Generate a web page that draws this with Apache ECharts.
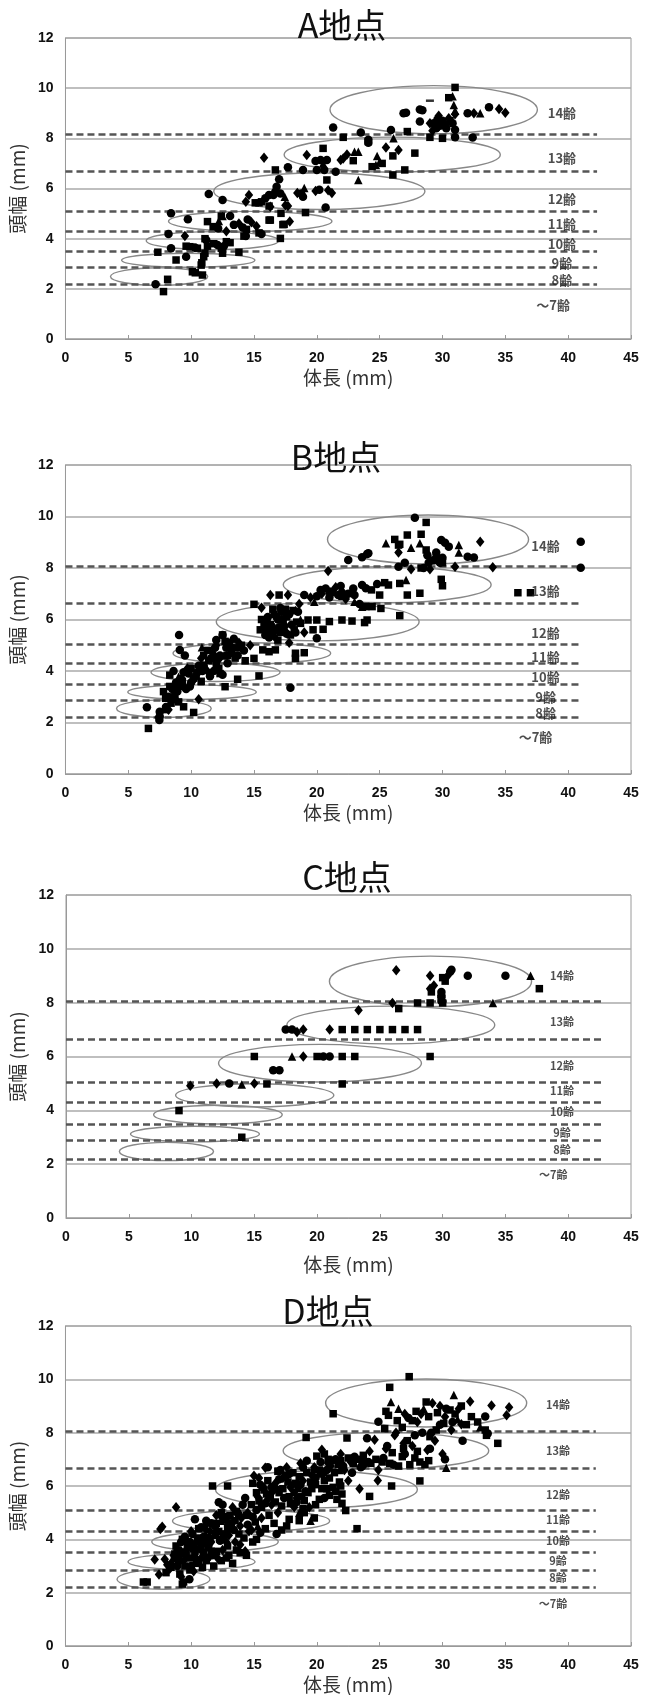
<!DOCTYPE html>
<html><head><meta charset="utf-8">
<script src="https://cdn.jsdelivr.net/npm/echarts@6/dist/echarts.min.js"></script>
<style>html,body{margin:0;padding:0;background:#fff}#c{width:660px;height:1695px}</style>
</head><body><div id="c"></div>
<script>
// ---- shared ----
const xTicks = [0,5,10,15,20,25,30,35,40,45];
const yTicks = [0,2,4,6,8,10,12];
const ageNames = ['14齢','13齢','12齢','11齢','10齢','9齢','8齢','～7齢'];

// ---- A地点 ----
const A_circle = [[26.9,9.0],[27.1,9.02],[28.2,9.15],[28.4,9.12],[28.2,8.67],[29.3,8.6],[29.8,8.5],[30.2,8.55],[29.6,8.75],[33.7,9.24],[32.0,9.0],[31.0,8.34],[31.0,8.04],[32.4,8.03],[25.9,8.33],[21.3,8.43],[23.5,8.23],[24.1,7.94],[24.1,7.82],[19.9,7.1],[20.3,7.14],[20.8,7.14],[17.7,6.85],[18.9,6.74],[20.0,6.74],[20.6,6.74],[21.5,6.67],[17.0,6.37],[16.8,6.07],[16.7,5.87],[16.55,5.74],[17.1,5.8],[16.2,5.74],[15.9,5.61],[11.4,5.78],[12.5,5.54],[18.9,5.67],[18.75,5.8],[20.2,5.95],[20.7,5.24],[8.4,5.01],[9.74,4.77],[13.1,4.9],[12.15,4.41],[13.4,4.55],[14.5,4.76],[14.1,4.45],[14.35,4.11],[15.6,4.19],[8.2,4.19],[11.2,3.95],[12.1,3.75],[12.6,3.7],[8.4,3.62],[9.6,3.28],[10.3,3.65],[7.17,2.18],[29.5,8.4],[30.0,8.7],[30.3,8.4],[30.8,8.6]];
const A_square = [[31.0,10.03],[30.5,9.62],[29.5,8.45],[30.6,8.7],[27.2,8.27],[22.1,8.04],[24.1,7.87],[29.0,8.04],[30.0,8.0],[20.5,7.6],[26.05,7.3],[22.9,7.11],[24.4,6.87],[25.2,7.0],[16.7,6.74],[27.8,7.41],[20.8,6.34],[26.05,6.54],[27.0,6.74],[15.1,5.43],[15.4,5.43],[15.6,5.47],[16.2,5.3],[19.1,5.04],[17.15,5.01],[16.2,4.74],[17.3,4.56],[11.3,4.68],[12.4,4.9],[16.3,4.74],[17.4,4.57],[14.4,4.37],[15.4,4.23],[17.1,4.01],[14.2,4.1],[11.1,4.0],[11.75,4.48],[9.6,3.7],[9.9,3.68],[10.5,3.62],[11.3,3.7],[11.8,3.8],[12.4,3.62],[13.1,3.84],[12.8,3.88],[11.1,3.42],[11.0,3.28],[12.5,3.42],[13.8,3.46],[7.35,3.46],[8.8,3.15],[10.85,3.04],[10.8,2.95],[10.1,2.68],[10.33,2.64],[10.9,2.55],[8.13,2.38],[7.8,1.89]];
const A_diamond = [[29.7,8.9],[30.5,8.8],[31.0,8.96],[32.5,9.0],[34.5,9.17],[35.0,9.02],[29.2,8.3],[29.0,8.6],[25.5,7.63],[26.5,7.53],[15.8,7.23],[19.2,7.34],[21.9,7.14],[22.4,7.36],[22.1,7.2],[14.6,5.74],[14.35,5.47],[17.7,5.3],[16.3,5.27],[19.9,5.9],[20.9,5.93],[21.2,5.82],[18.45,5.82],[17.5,5.33],[17.85,4.68],[15.2,4.5],[9.5,4.11],[12.8,4.3],[13.8,4.6],[14.8,4.65]];
const A_triangle = [[30.8,9.68],[30.9,9.33],[31.0,9.1],[33.0,9.0],[26.1,8.0],[23.0,7.47],[23.3,7.47],[24.8,7.3],[24.7,6.94],[25.0,7.07],[20.5,7.0],[23.3,6.34],[17.45,5.67],[19.0,6.02],[12.5,4.9],[12.2,4.7]];
const A_dash = [[29.0,9.5]];
const A_ellipses = [[29.3,9.14,8.25,0.96],[26.0,7.35,8.6,0.70],[20.2,5.89,8.4,0.73],[14.7,4.69,6.5,0.40],[11.7,3.92,5.27,0.36],[9.77,3.14,5.3,0.28],[7.45,2.49,3.87,0.35]];
const A_bounds = [8.15,6.7,5.1,4.3,3.5,2.85,2.2];
const A_boundEnd = 42.3;
const A_labelX = [39.5,39.5,39.5,39.5,39.5,39.5,39.5,38.8];
const A_labelY = [9.0,7.2,5.57,4.57,3.79,3.04,2.35,1.36];

// ---- B地点 ----
const B_circle = [[27.8,9.95],[29.9,9.09],[30.2,8.98],[30.5,8.83],[32.0,8.44],[32.5,8.41],[28.8,8.5],[29.3,8.3],[29.8,8.2],[28.5,8.0],[27.0,8.2],[26.5,8.05],[24.0,8.54],[23.6,8.42],[24.1,8.57],[22.5,8.31],[41.0,9.02],[41.0,8.01],[30.0,8.4],[20.7,7.2],[21.2,7.05],[21.9,7.3],[22.5,7.0],[23.0,6.95],[23.6,7.34],[23.9,7.21],[24.8,7.38],[19.0,6.95],[20.0,6.9],[23.4,6.6],[17.2,6.3],[16.8,6.1],[17.3,6.0],[16.0,5.95],[15.8,5.6],[16.5,5.5],[17.0,5.7],[17.6,5.45],[18.0,5.8],[18.5,6.3],[16.2,5.3],[20.0,5.27],[17.9,3.35],[9.04,5.4],[9.1,4.82],[9.5,4.6],[12.0,5.2],[12.5,5.4],[13.4,5.25],[12.8,4.9],[13.2,4.7],[11.6,4.5],[14.2,4.8],[11.0,4.2],[11.8,4.0],[12.5,3.85],[9.8,3.9],[10.5,3.95],[8.6,4.0],[9.2,3.7],[10.0,3.55],[9.6,3.3],[8.2,3.0],[8.9,3.2],[6.48,2.59],[7.5,2.42],[7.5,2.23],[7.47,2.1],[8.0,2.6],[16.4,5.75],[17.4,5.55],[16.9,6.0],[17.8,6.2],[15.9,5.4],[12.3,4.6],[11.9,4.9],[13.0,5.1],[10.2,3.7],[10.9,4.0],[9.4,3.95],[8.5,3.3],[8.7,2.9],[21.7,6.95],[22.9,7.2],[29.5,8.6],[28.9,8.2],[16.1,6.1],[17.1,6.45],[16.7,5.6],[18.3,5.5],[13.7,4.6],[12.9,4.3],[11.5,3.8],[10.6,4.2],[9.9,3.4],[8.8,3.55],[21.0,6.85],[20.3,7.15]];
const B_square = [[28.7,9.77],[27.2,9.28],[28.3,9.31],[26.2,9.11],[26.6,8.92],[26.5,8.89],[28.7,8.7],[29.2,8.3],[28.3,8.0],[36.0,7.04],[37.0,7.04],[29.9,7.56],[30.0,7.31],[28.2,7.02],[27.2,6.95],[25.4,7.43],[25.7,7.34],[26.6,7.4],[25.0,6.95],[24.35,7.15],[17.0,6.95],[15.0,6.59],[23.9,6.5],[24.4,6.5],[26.6,6.15],[25.1,6.43],[19.3,5.98],[20.0,5.98],[21.0,5.92],[22.0,5.98],[22.8,5.94],[23.8,5.88],[24.0,5.98],[20.5,5.62],[18.7,5.85],[19.7,5.6],[16.3,5.8],[17.1,5.5],[18.2,5.6],[15.6,6.0],[16.6,6.2],[17.5,6.4],[12.5,5.4],[12.9,4.6],[15.0,4.49],[15.7,4.82],[16.2,4.75],[16.7,4.82],[18.3,4.69],[19.0,4.71],[18.3,4.49],[14.3,4.4],[15.4,3.81],[13.7,3.68],[12.7,3.39],[8.3,3.84],[11.5,3.9],[12.2,4.1],[10.8,3.6],[7.8,3.2],[7.97,2.94],[8.4,2.75],[9.0,2.8],[9.4,2.61],[10.2,2.39],[6.6,1.77],[12.0,4.3],[13.5,4.5],[11.3,4.8],[16.0,5.9],[17.6,6.1],[18.4,5.9],[15.5,5.6],[13.2,4.8],[14.0,5.0],[11.0,4.6],[10.4,3.8],[9.0,3.4],[8.7,3.1],[8.0,2.5],[21.0,7.1],[22.0,6.9],[30.0,8.2],[29.5,8.4],[15.8,5.75],[16.5,6.4],[17.3,6.3],[17.9,5.4],[16.9,5.2],[18.1,6.35],[12.7,5.15],[13.6,4.9],[11.4,4.4],[12.3,3.9],[10.0,4.1],[9.3,3.6],[8.3,3.4],[11.8,4.55]];
const B_diamond = [[33.0,9.02],[26.5,8.6],[31.0,8.05],[34.0,8.03],[27.5,7.95],[29.0,7.95],[20.9,7.88],[17.7,6.95],[16.3,6.95],[15.6,6.46],[21.5,7.25],[22.0,7.1],[22.3,6.8],[19.5,6.85],[20.4,7.0],[18.6,6.6],[17.3,5.9],[16.6,5.35],[17.8,5.1],[19.0,5.5],[12.0,5.0],[11.7,4.7],[13.8,5.1],[14.7,5.0],[10.8,4.5],[9.7,4.1],[10.3,3.8],[9.4,3.4],[10.6,2.9],[7.4,2.2],[8.2,2.5],[11.2,4.05],[16.2,5.55],[17.5,5.75],[13.1,5.0],[12.2,4.45],[10.1,3.6]];
const B_triangle = [[25.5,8.96],[27.5,8.79],[28.2,8.96],[31.3,8.89],[31.3,8.6],[27.1,7.53],[19.8,6.69],[23.0,6.69],[23.6,6.5],[18.3,6.37],[18.7,6.0],[10.86,4.92],[9.0,3.78],[12.6,4.6]];
const B_ellipses = [[28.85,9.11,8.0,0.95],[25.6,7.35,8.27,0.70],[20.07,5.91,8.07,0.74],[14.83,4.69,6.27,0.41],[11.94,3.95,5.13,0.36],[10.07,3.18,5.11,0.28],[7.83,2.54,3.77,0.34]];
const B_bounds = [8.05,6.65,5.05,4.3,3.5,2.85,2.2];
const B_boundEnd = 40.9;
const B_labelX = [38.2,38.2,38.2,38.2,38.2,38.2,38.2,37.4];
const B_labelY = [8.85,7.12,5.49,4.55,3.78,3.0,2.36,1.42];

// ---- C地点 ----
const C_circle = [[30.7,9.22],[30.6,9.15],[32.0,9.0],[35.0,9.0],[29.9,8.4],[29.9,8.27],[29.9,8.19],[29.9,8.06],[17.5,7.0],[18.0,7.0],[20.5,6.0],[21.0,6.0],[16.5,5.49],[17.0,5.49],[13.0,5.0]];
const C_square = [[30.0,8.93],[30.2,8.8],[37.7,8.52],[29.1,8.4],[28.0,7.99],[29.0,7.99],[30.0,7.99],[26.5,7.78],[22,7.0],[23,7.0],[24,7.0],[25,7.0],[26,7.0],[27,7.0],[28,7.0],[15,6.0],[20,6.0],[22,6.0],[23,6.0],[29,6.0],[22,4.98],[16,4.98],[9,3.99],[14,3.0]];
const C_diamond = [[26.3,9.2],[29.0,9.0],[30.4,9.0],[29.0,8.52],[29.3,8.64],[26.0,7.99],[23.3,7.72],[18.4,6.91],[18.9,7.0],[21.0,7.0],[18.9,6.0],[9.9,4.91],[12.0,5.0],[15.0,5.0]];
const C_triangle = [[37.0,9.0],[34.0,7.99],[18.0,6.0],[14.0,4.96]];
const C_ellipses = [[29.03,8.79,8.05,0.94],[25.87,7.17,8.28,0.70],[20.23,5.75,8.08,0.70],[15.03,4.56,6.3,0.43],[12.1,3.84,5.12,0.35],[10.27,3.12,5.13,0.29],[8.0,2.47,3.75,0.34]];
const C_bounds = [8.05,6.65,5.05,4.3,3.5,2.9,2.2];
const C_boundEnd = 42.7;
const C_labelX = [39.5,39.5,39.5,39.5,39.5,39.5,39.5,38.8];
const C_labelY = [9.0,7.3,5.67,4.74,3.94,3.17,2.54,1.59];

// ---- D地点 ----
const D_square = [[27.35,10.1],[25.8,9.7],[21.3,8.71],[25.5,8.8],[25.7,8.65],[26.8,8.2],[27.6,8.45],[28.7,9.15],[29.6,8.75],[30.6,8.85],[31.5,9.0],[32.3,8.6],[33.4,8.1],[33.5,7.9],[34.4,7.6],[29.0,7.85],[27.2,7.7],[26.9,7.4],[26.0,7.25],[27.8,7.05],[28.2,6.9],[28.9,6.95],[28.6,6.8],[26.5,6.75],[25.2,6.9],[24.3,6.85],[23.2,7.0],[22.5,7.05],[21.7,6.8],[20.6,7.2],[20.0,7.12],[19.15,7.82],[28.2,6.19],[25.95,6.0],[24.2,5.61],[22.3,5.08],[23.2,4.4],[21.9,6.0],[21.5,5.8],[21.0,5.65],[20.6,6.2],[20.2,5.5],[19.6,5.9],[19.2,6.5],[18.8,5.6],[18.3,6.1],[17.9,5.35],[17.5,6.4],[17.0,5.75],[16.3,5.6],[15.8,5.85],[15.4,5.45],[14.8,5.3],[19.8,4.8],[19.0,5.0],[18.6,4.7],[17.6,4.5],[17.2,4.35],[16.6,4.6],[15.9,4.4],[15.2,4.0],[14.9,3.9],[14.4,3.4],[13.6,3.6],[13.8,4.2],[13.1,4.9],[12.6,4.75],[12.2,4.3],[11.7,6.0],[12.9,6.0],[12.9,3.75],[12.4,3.2],[11.8,3.0],[11.4,3.7],[11.0,3.5],[10.5,4.05],[10.1,3.8],[9.8,3.3],[9.5,3.0],[9.1,2.7],[9.3,2.32],[9.4,2.4],[8.8,3.75],[8.7,3.45],[6.2,2.4],[6.5,2.4],[13.3,3.1],[10.9,2.95],[22.4,7.8],[31.9,8.3],[21.0,6.3],[20.4,5.9],[19.9,6.05],[19.3,5.75],[18.5,5.9],[17.8,5.6],[17.3,5.9],[16.7,5.4],[16.0,5.7],[15.6,5.2],[21.6,5.5],[22.0,5.7],[21.4,6.5],[20.2,6.6],[18.1,6.5],[16.9,6.55],[14.4,4.9],[13.5,4.7],[12.9,4.45],[12.3,4.0],[11.9,4.15],[11.3,3.85],[10.8,3.75],[10.3,3.55],[9.7,3.75],[12.0,3.55],[13.0,3.4],[11.2,3.2],[10.4,3.1],[9.9,2.85],[8.9,3.6],[9.3,4.0],[10.6,4.4],[12.4,5.0],[13.6,5.05],[14.2,4.05],[15.1,4.65],[16.2,4.9],[17.8,4.75],[18.9,5.15],[23.7,7.15],[24.7,7.0],[25.8,6.85],[26.8,7.1],[28.0,7.3],[27.4,6.8],[29.5,8.1],[30.1,8.35],[31.0,8.7],[28.9,8.6],[27.9,8.8],[26.4,8.45],[25.4,8.15],[32.8,8.4],[14.9,6.1],[15.2,5.75],[16.1,6.2],[16.6,5.95],[17.2,5.25],[17.7,6.15],[18.2,5.75],[18.6,6.35],[19.0,5.45],[19.5,6.15],[19.9,5.3],[20.3,6.45],[20.8,5.9],[21.3,5.95],[21.8,6.15],[22.0,5.35],[20.9,7.0],[21.9,6.95],[22.9,6.85],[23.6,6.9],[13.2,4.4],[12.0,4.6],[12.7,4.2],[11.5,4.0],[10.9,3.9],[10.2,3.65],[9.6,3.5],[9.0,3.2],[8.4,2.95],[8.0,2.75],[10.6,3.2],[11.6,3.55],[12.8,3.3],[13.9,3.5]];
const D_diamond = [[32.2,9.17],[33.9,9.02],[35.3,8.95],[35.1,8.65],[31.5,8.32],[30.2,8.6],[29.2,9.1],[28.0,8.4],[27.0,8.7],[26.2,7.9],[24.6,7.73],[29.4,7.7],[28.8,7.35],[24.85,6.21],[24.9,6.6],[23.8,6.8],[22.7,6.9],[21.9,7.2],[20.4,7.36],[19.8,6.7],[18.7,6.85],[17.6,6.7],[15.0,6.38],[15.9,6.68],[16.7,6.1],[17.9,5.95],[18.9,6.2],[20.6,6.5],[19.4,5.2],[18.2,5.2],[16.9,5.0],[15.6,4.8],[14.6,4.3],[14.0,4.8],[13.3,5.2],[12.0,4.9],[11.1,4.5],[8.8,5.2],[7.7,4.47],[7.55,4.39],[10.0,4.3],[9.6,3.6],[9.0,3.35],[8.4,3.1],[7.9,3.25],[7.1,3.24],[7.44,2.68],[8.3,2.9],[10.2,2.8],[12.8,3.9],[13.9,3.8],[14.3,3.55],[11.6,3.9],[16.1,5.5],[17.3,6.3],[22.5,6.2],[25.5,7.4],[27.6,7.5],[30.7,8.1],[30.0,7.2],[26.3,8.0],[23.4,5.9],[9.2,2.6],[12.1,3.3],[20.9,6.85],[19.6,6.4],[18.0,6.0],[16.5,5.8],[15.3,5.6],[14.5,5.0],[13.9,4.5],[13.0,4.15],[12.5,3.6],[11.5,4.3],[10.8,3.3],[9.4,3.2],[8.6,3.4],[24.2,7.3],[26.9,7.6],[28.3,8.7],[29.8,9.0],[31.3,8.9],[15.4,6.3],[16.4,5.3],[18.4,5.55],[19.8,6.6],[21.1,6.75],[22.2,6.6],[12.3,4.9],[11.2,4.35],[10.4,3.9],[9.2,3.55],[8.1,3.05],[13.5,3.9],[14.8,4.35]];
const D_circle = [[33.4,8.61],[33.6,7.97],[31.6,7.7],[30.3,8.9],[29.8,8.3],[29.0,7.4],[30.2,7.0],[28.4,8.0],[27.3,8.55],[24.9,8.41],[24.0,7.79],[25.3,7.05],[27.0,7.2],[26.1,6.8],[24.1,6.9],[22.1,6.75],[21.2,6.95],[20.8,6.6],[19.9,6.3],[18.9,6.7],[17.1,6.6],[16.1,6.7],[16.4,5.95],[15.5,6.05],[17.4,5.55],[18.4,5.4],[19.1,5.8],[15.2,5.1],[14.1,5.3],[13.7,5.0],[12.2,5.39],[12.5,5.3],[11.2,4.7],[10.3,4.75],[11.6,4.6],[13.0,4.6],[13.4,4.35],[12.3,3.95],[11.0,4.1],[10.7,3.65],[9.9,3.9],[9.2,3.9],[8.9,3.0],[9.86,2.5],[10.3,3.3],[11.7,3.4],[15.5,4.25],[14.5,4.55],[16.8,4.2],[12.6,4.1],[22.8,6.5],[23.5,6.7],[20.3,6.9],[19.2,6.95],[17.8,6.45],[16.9,5.85],[15.9,5.35],[14.9,4.85],[13.8,4.9],[12.8,4.85],[11.9,4.5],[11.4,4.05],[10.1,4.2],[9.5,3.45],[10.0,3.0],[29.1,8.0],[30.8,8.4],[27.8,7.9],[25.6,7.5],[14.3,5.55],[15.7,5.95],[17.0,6.25],[18.7,6.05],[20.6,5.55],[13.2,4.6],[12.0,4.25],[10.8,4.45],[9.5,4.1],[8.7,3.3],[11.3,3.3],[21.5,7.0],[23.0,7.1]];
const D_triangle = [[30.9,9.41],[25.9,9.15],[30.3,6.68],[28.5,8.9],[31.2,8.5],[26.5,8.9],[33.0,8.2],[19.5,4.7],[15.3,4.5],[21.8,6.6],[18.6,5.0],[12.4,4.7],[10.6,3.7]];
const D_ellipses = [[28.7,9.11,8.0,0.90],[25.5,7.32,8.18,0.69],[19.97,5.87,8.03,0.69],[14.77,4.69,6.25,0.40],[11.9,3.91,5.03,0.36],[10.03,3.16,5.05,0.30],[7.8,2.5,3.7,0.37]];
const D_bounds = [8.05,6.65,5.1,4.3,3.5,2.85,2.2];
const D_boundEnd = 42.2;
const D_labelX = [39.2,39.2,39.2,39.2,39.2,39.2,39.2,38.8];
const D_labelY = [9.05,7.32,5.67,4.75,3.95,3.2,2.56,1.6];

// ---- layout (positions/styles only) ----
const panels = [
  {title:'A地点', grid:{left:52,top:38,width:579,height:301}, tx:337, ty:3, yGap:30, xGap:29, lab:13,
   circle:A_circle, square:A_square, diamond:A_diamond, triangle:A_triangle, dash:A_dash,
   ell:A_ellipses, bounds:A_bounds, bEnd:A_boundEnd, lx:A_labelX, ly:A_labelY},
  {title:'B地点', grid:{left:56,top:465,width:575,height:309}, tx:331, ty:435, yGap:33, xGap:29, lab:13,
   circle:B_circle, square:B_square, diamond:B_diamond, triangle:B_triangle, dash:[],
   ell:B_ellipses, bounds:B_bounds, bEnd:B_boundEnd, lx:B_labelX, ly:B_labelY},
  {title:'C地点', grid:{left:62,top:895,width:569,height:323}, tx:342, ty:855, yGap:39, xGap:37, lab:11,
   circle:C_circle, square:C_square, diamond:C_diamond, triangle:C_triangle, dash:[],
   ell:C_ellipses, bounds:C_bounds, bEnd:C_boundEnd, lx:C_labelX, ly:C_labelY},
  {title:'D地点', grid:{left:62,top:1326,width:569,height:325}, tx:323, ty:1289, yGap:33, xGap:29, lab:11,
   circle:D_circle, square:D_square, diamond:D_diamond, triangle:D_triangle, dash:[],
   ell:D_ellipses, bounds:D_bounds, bEnd:D_boundEnd, lx:D_labelX, ly:D_labelY}
];

const tickFont = {fontFamily:'Liberation Sans', fontWeight:'bold', fontSize:14, color:'#111'};
const nameFont = {fontFamily:'Noto Sans CJK JP', fontSize:19, color:'#333'};

function ellipseRender(params, api){
  const c = api.coord([api.value(0), api.value(1)]);
  const s = api.size([api.value(2), api.value(3)]);
  return {type:'ellipse', silent:true,
    shape:{cx:c[0], cy:c[1], rx:s[0], ry:s[1]},
    style:{fill:null, stroke:'#888', lineWidth:1.4}};
}

const option = {animation:false, backgroundColor:'#fff', title:[], grid:[], xAxis:[], yAxis:[], series:[]};

panels.forEach((p,i)=>{
  option.title.push({text:p.title, left:p.tx, top:p.ty, textAlign:'center',
    textStyle:{fontFamily:'Noto Sans CJK JP', fontSize:34, fontWeight:'normal', color:'#111'}});
  option.grid.push(Object.assign({show:true, borderColor:'#9a9a9a', borderWidth:1, containLabel:false}, p.grid));
  option.xAxis.push({gridIndex:i, type:'value', min:xTicks[0], max:xTicks[xTicks.length-1], interval:xTicks[1]-xTicks[0],
    name:'体長 (mm)', nameLocation:'middle', nameGap:p.xGap, nameTextStyle:nameFont,
    axisLine:{show:true, lineStyle:{color:'#999', width:1}},
    axisTick:{show:true, inside:true, length:4, lineStyle:{color:'#999'}},
    axisLabel:Object.assign({margin:12}, tickFont), splitLine:{show:false}});
  option.yAxis.push({gridIndex:i, type:'value', min:yTicks[0], max:yTicks[yTicks.length-1], interval:yTicks[1]-yTicks[0],
    name:'頭幅 (mm)', nameLocation:'middle', nameGap:p.yGap, nameTextStyle:nameFont,
    axisLine:{show:true, lineStyle:{color:'#999', width:1}}, axisTick:{show:false},
    axisLabel:Object.assign({margin:12}, tickFont),
    splitLine:{show:true, lineStyle:{color:'#aaa', width:1.5}}});
  option.series.push({type:'scatter', xAxisIndex:i, yAxisIndex:i, data:[], silent:true,
    markLine:{silent:true, symbol:['none','none'], label:{show:false}, animation:false,
      lineStyle:{type:[7,4], color:'#555', width:2.5},
      data:p.bounds.map(b=>[{coord:[0,b]},{coord:[p.bEnd,b]}])}});
  option.series.push({type:'custom', xAxisIndex:i, yAxisIndex:i, renderItem:ellipseRender,
    data:p.ell, encode:{x:0, y:1}, z:3, silent:true});
  const shapes = [['circle',p.circle,8.5],['rect',p.square,7.5],['diamond',p.diamond,[8.5,10.5]],['triangle',p.triangle,8.5]];
  shapes.forEach(s=>{
    option.series.push({type:'scatter', xAxisIndex:i, yAxisIndex:i, symbol:s[0], symbolSize:s[2],
      data:s[1], itemStyle:{color:'#000', opacity:1}, z:5, silent:true});
  });
  if (p.dash.length) option.series.push({type:'scatter', xAxisIndex:i, yAxisIndex:i, symbol:'rect', symbolSize:[8,2.5],
      data:p.dash, itemStyle:{color:'#000'}, z:5, silent:true});
  option.series.push({type:'scatter', xAxisIndex:i, yAxisIndex:i, symbolSize:1, itemStyle:{color:'rgba(0,0,0,0)'}, z:6, silent:true,
    data:ageNames.map((n,k)=>({name:n, value:[p.lx[k], p.ly[k]]})),
    label:{show:true, position:'inside', formatter:'{b}', fontFamily:'Noto Sans CJK JP', fontWeight:'bold',
      fontSize:p.lab, color:'#222'}});
});

const chart = echarts.init(document.getElementById('c'), null, {renderer:'canvas'});
chart.setOption(option);
</script></body></html>
